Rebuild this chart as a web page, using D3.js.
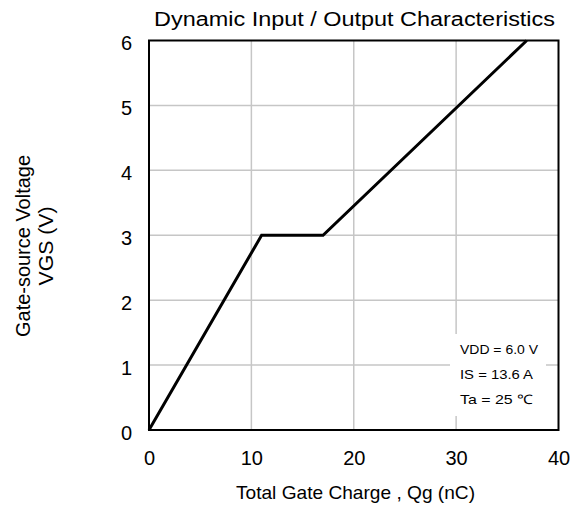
<!DOCTYPE html>
<html><head><meta charset="utf-8">
<script src="https://cdn.jsdelivr.net/npm/d3@7/dist/d3.min.js"></script>
<style>body{margin:0;background:#fff;} text{font-family:"Liberation Sans",Arial,sans-serif;fill:#000;}</style>
</head><body>
<svg id="c" width="581" height="509"></svg>
<script>
const qg = [0, 11.0, 17.0, 36.9];
const vgs = [0, 3.0, 3.0, 6.0];
const xTicks = [0, 10, 20, 30, 40];
const yTicks = [0, 1, 2, 3, 4, 5, 6];
const notes = ["VDD = 6.0 V", "IS = 13.6 A", "Ta = 25 \u2103"];
const title = "Dynamic Input / Output Characteristics";
const xTitle = "Total Gate Charge , Qg (nC)";
const yTitle = ["Gate-source Voltage", "VGS (V)"];

const svg = d3.select("#c");
const L = 149, R = 558.5, T = 40.5, B = 430;
const x = d3.scaleLinear().domain([0, 40]).range([L, R]);
const y = d3.scaleLinear().domain([0, 6]).range([B, T]);
const FF = "Liberation Sans, Arial, sans-serif";

// grid
svg.append("g").selectAll("line").data(xTicks.slice(1, -1)).join("line")
  .attr("x1", d => x(d)).attr("x2", d => x(d)).attr("y1", T).attr("y2", B)
  .attr("stroke", "#c6c6c6").attr("stroke-width", 1.5);
svg.append("g").selectAll("line").data(yTicks.slice(1, -1)).join("line")
  .attr("y1", d => y(d)).attr("y2", d => y(d)).attr("x1", L).attr("x2", R)
  .attr("stroke", "#c6c6c6").attr("stroke-width", 1.5);

// annotation box (white background)
svg.append("rect").attr("x", 450).attr("y", 334).attr("width", 96).attr("height", 82).attr("fill", "#fff");
const noteLen = [78, 73, 73];
svg.append("g").selectAll("text").data(notes).join("text")
  .attr("x", 460).attr("y", (d, i) => 354 + i * 25)
  .attr("font-size", 13).attr("textLength", (d, i) => noteLen[i]).attr("lengthAdjust", "spacingAndGlyphs")
  .text(d => d);

// line
svg.append("path").datum(qg.map((d, i) => [d, vgs[i]]))
  .attr("d", d3.line().x(d => x(d[0])).y(d => y(d[1])))
  .attr("fill", "none").attr("stroke", "#000").attr("stroke-width", 3);

// frame
svg.append("rect").attr("x", L).attr("y", T).attr("width", R - L).attr("height", B - T)
  .attr("fill", "none").attr("stroke", "#000").attr("stroke-width", 2);

// axes
const xa = svg.append("g").attr("transform", `translate(0,${B})`)
  .call(d3.axisBottom(x).tickValues(xTicks).tickFormat(d3.format("d")).tickSize(0));
xa.select(".domain").remove();
xa.selectAll("text").attr("font-size", 20).attr("font-family", FF).attr("fill", "#000")
  .attr("y", 35).attr("dy", 0);
const ya = svg.append("g").attr("transform", `translate(${L},0)`)
  .call(d3.axisLeft(y).tickValues(yTicks).tickFormat(d3.format("d")).tickSize(0));
ya.select(".domain").remove();
ya.selectAll("text").attr("font-size", 20).attr("font-family", FF).attr("fill", "#000")
  .attr("x", -17).attr("dy", "0.45em");

svg.append("text").attr("x", 354.5).attr("y", 25.7).attr("text-anchor", "middle")
  .attr("font-size", 19.5).attr("textLength", 401).attr("lengthAdjust", "spacingAndGlyphs").text(title);
svg.append("text").attr("x", 355.5).attr("y", 499).attr("text-anchor", "middle")
  .attr("font-size", 19).attr("textLength", 239).attr("lengthAdjust", "spacingAndGlyphs").text(xTitle);
const yLen = [182, 79];
svg.append("g").attr("transform", `translate(0,246)`).selectAll("text").data(yTitle).join("text")
  .attr("transform", (d, i) => `translate(${30 + i * 23},0) rotate(-90)`)
  .attr("text-anchor", "middle").attr("font-size", 19.5)
  .attr("textLength", (d, i) => yLen[i]).attr("lengthAdjust", "spacingAndGlyphs").text(d => d);
</script>
</body></html>
